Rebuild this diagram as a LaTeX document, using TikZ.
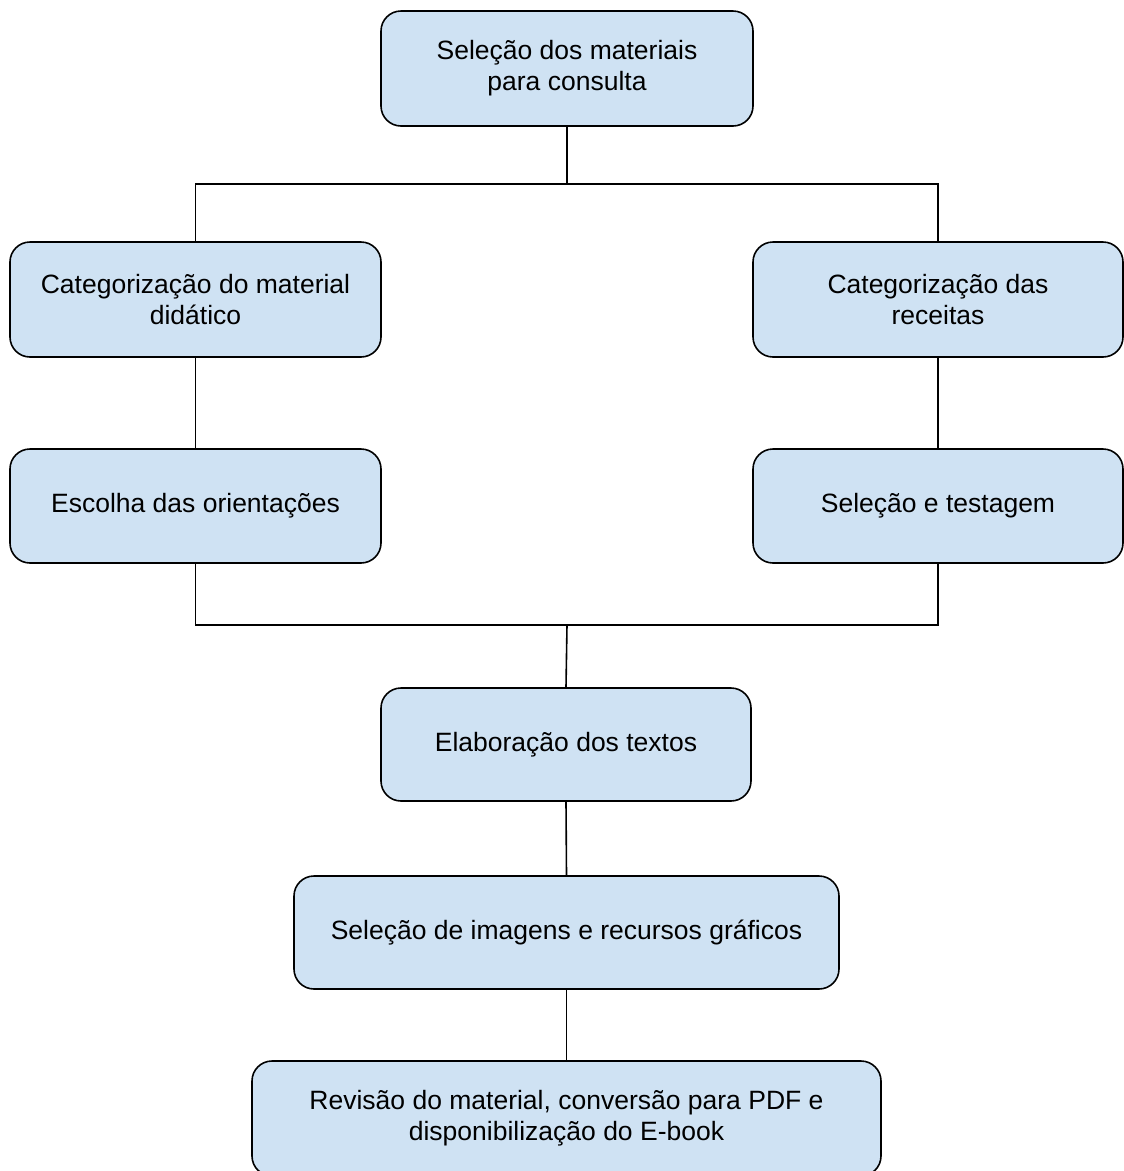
\documentclass[tikz,border=0pt]{standalone}
\usepackage{fontspec}
\setmainfont{Liberation Sans}
\definecolor{boxfill}{HTML}{CFE2F3}
\begin{document}
\begin{tikzpicture}[x=1pt,y=-1pt,
  stepbox/.style={draw=black, line width=1.6pt, fill=boxfill, rounded corners=20pt,
    inner sep=0pt, align=center, font=\fontsize{26.5}{31}\selectfont},
  conn/.style={draw=black, line width=1.6pt}]
\useasboundingbox (0,0) rectangle (1124,1171);
\clip (0,0) rectangle (1124,1171);
\node[stepbox, minimum width=372pt, minimum height=115pt] (top) at (567,68.5) {Seleção dos materiais\\para consulta};
\node[stepbox, minimum width=371pt, minimum height=115pt] (cl) at (195.5,299.5) {Categorização do material\\didático};
\node[stepbox, minimum width=370pt, minimum height=115pt] (cr) at (938,299.5) {Categorização das\\receitas};
\node[stepbox, minimum width=371pt, minimum height=114pt] (ol) at (195.5,506) {Escolha das orientações};
\node[stepbox, minimum width=370pt, minimum height=114pt] (sr) at (938,506) {Seleção e testagem};
\node[stepbox, minimum width=370pt, minimum height=113pt] (el) at (566,744.5) {Elaboração dos textos};
\node[stepbox, minimum width=545pt, minimum height=113pt] (si) at (566.5,932.5) {Seleção de imagens e recursos gráficos};
\node[stepbox, minimum width=629pt, minimum height=115pt] (rv) at (566.5,1118.5) {Revisão do material, conversão para PDF e\\disponibilização do E-book};
\coordinate (j1) at (567,184);
\coordinate (j2) at (567,625);
\draw[conn] (top.south) -- (j1);
\draw[conn] (cl.north) -- (cl.north |- j1) -- (cr.north |- j1) -- (cr.north);
\draw[conn] (cl.south) -- (ol.north);
\draw[conn] (cr.south) -- (sr.north);
\draw[conn] (ol.south) -- (ol.south |- j2) -- (sr.south |- j2) -- (sr.south);
\draw[conn] (j2) -- (el.north);
\draw[conn] (el.south) -- (si.north);
\draw[conn] (si.south) -- (rv.north);
\end{tikzpicture}
\end{document}
